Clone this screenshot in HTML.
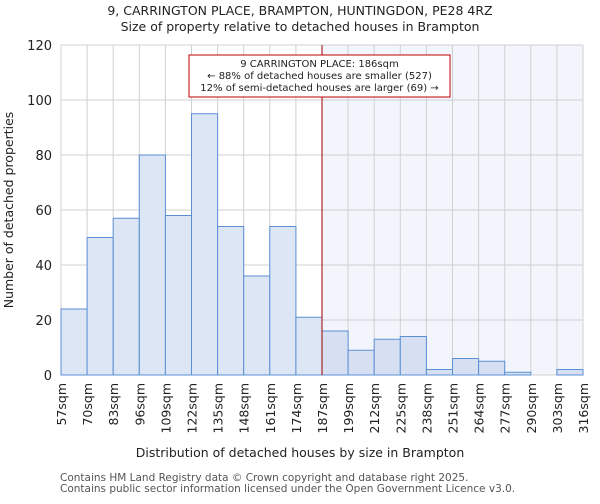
<!DOCTYPE html>
<html><head><meta charset="utf-8"><style>
body{margin:0;background:#fff;font-family:"DejaVu Sans","Liberation Sans",sans-serif}
</style></head><body>
<svg id="c" width="600" height="500" xmlns="http://www.w3.org/2000/svg" font-family="DejaVu Sans, Liberation Sans, sans-serif">
<text x="300" y="15" text-anchor="middle" font-size="12.5" fill="#222">9, CARRINGTON PLACE, BRAMPTON, HUNTINGDON, PE28 4RZ</text>
<text x="300" y="31" text-anchor="middle" font-size="12.5" fill="#222">Size of property relative to detached houses in Brampton</text>
<g id="plot"></g>
<text x="300" y="457" text-anchor="middle" font-size="12.5" fill="#222">Distribution of detached houses by size in Brampton</text>
<text transform="translate(13,210) rotate(-90)" text-anchor="middle" font-size="12.5" fill="#222">Number of detached properties</text>
<text x="60" y="481" font-size="10.5" fill="#555">Contains HM Land Registry data © Crown copyright and database right 2025.</text>
<text x="60" y="492" font-size="10.5" fill="#555">Contains public sector information licensed under the Open Government Licence v3.0.</text>
</svg>
<script>
const binLabels=["57sqm","70sqm","83sqm","96sqm","109sqm","122sqm","135sqm","148sqm","161sqm","174sqm","187sqm","199sqm","212sqm","225sqm","238sqm","251sqm","264sqm","277sqm","290sqm","303sqm","316sqm"];
const counts=[24,50,57,80,58,95,54,36,54,21,16,9,13,14,2,6,5,1,0,2];
const yTicks=[0,20,40,60,80,100,120];
const markerBin=10;
const annotation=["9 CARRINGTON PLACE: 186sqm","← 88% of detached houses are smaller (527)","12% of semi-detached houses are larger (69) →"];
const NS="http://www.w3.org/2000/svg";
const L=61,R=583,T=45,B=375,yMax=120;
const n=counts.length,bw=(R-L)/n;
const x=i=>L+i*bw, y=v=>B-(v/yMax)*(B-T);
const g=document.getElementById('plot');
function mk(t,a){const e=document.createElementNS(NS,t);for(const k in a)e.setAttribute(k,a[k]);g.appendChild(e);return e;}
let e=mk('rect',{x:x(markerBin),y:T,width:R-x(markerBin),height:B-T,fill:'#f2f5fc'});


for(let i=0;i<=n;i++){e=mk('line',{x1:x(i),x2:x(i),y1:T,y2:B,stroke:'#d0d0d0','stroke-width':1});

}
yTicks.forEach(v=>{e=mk('line',{x1:L,x2:R,y1:y(v),y2:y(v),stroke:'#d0d0d0','stroke-width':1});


e=mk('text',{x:L-9,y:y(v)+5,'text-anchor':'end','font-size':13,fill:'#222'});e.textContent=v;

});
counts.forEach((v,i)=>{e=mk('rect',{x:x(i),y:y(v),width:bw,height:B-y(v),fill:i>=markerBin?'#d6e0f2':'#dce6f4',stroke:'#5b8fd4','stroke-width':1});

});
binLabels.forEach((s,i)=>{e=mk('text',{transform:`translate(${x(i)+5},${B+8}) rotate(-90)`,'text-anchor':'end','font-size':12.5,fill:'#222'});e.textContent=s;

});
e=mk('line',{x1:x(markerBin),x2:x(markerBin),y1:T,y2:B,stroke:'#a00000','stroke-width':1});


e=mk('rect',{x:189,y:55,width:261,height:42,fill:'#fff',stroke:'#c00000','stroke-width':1});


annotation.forEach((s,i)=>{e=mk('text',{x:319.5,y:67+i*12,'text-anchor':'middle','font-size':10,fill:'#222'});e.textContent=s;

});
</script>
</body></html>
